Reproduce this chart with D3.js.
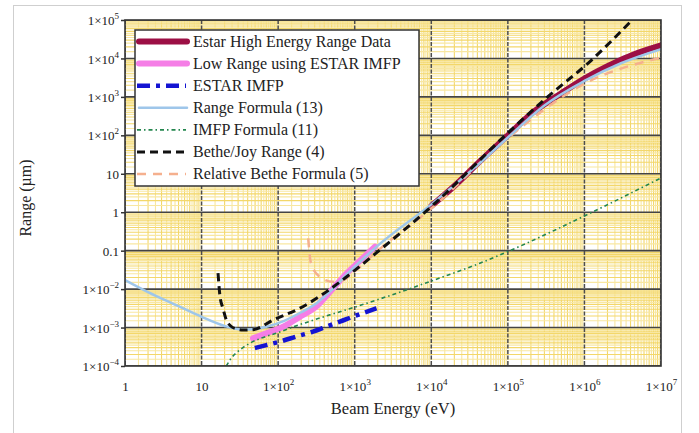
<!DOCTYPE html>
<html lang="en">
<head>
<meta charset="utf-8">
<title>Range vs Beam Energy</title>
<script src="https://d3js.org/d3.v7.min.js"></script>
<style>
  body { margin: 0; background: #fff; }
  svg text { font-family: "Liberation Serif", "Times New Roman", serif; fill: #222; }
</style>
</head>
<body>
<svg id="chart" width="699" height="433"></svg>
<script>
// legend names, in legend order
var seriesNames = [
    "Estar High Energy Range Data",
    "Low Range using ESTAR IMFP",
    "ESTAR IMFP",
    "Range Formula (13)",
    "IMFP Formula (11)",
    "Bethe/Joy Range (4)",
    "Relative Bethe Formula (5)"
];

// beam energy (eV) / range (um)
var estarHighE = [1e4, 2e4, 4.3e4, 1e5, 2e5, 5e5, 1e6, 2e6, 5e6, 1e7];
var estarHighR = [1.45, 4.8, 21, 100, 360, 1250, 3000, 6300, 14000, 22000];

var lowRangeE = [47, 70, 116, 200, 318, 500, 786, 1200, 1837];
var lowRangeR = [5.25e-4, 7.1e-4, 1.05e-3, 2.0e-3, 3.6e-3, 9.5e-3, 0.0257, 0.057, 0.127];

var estarImfpE = [49.6, 70, 105, 180, 285, 450, 640, 1000, 1930];
var estarImfpR = [2.94e-4, 3.5e-4, 4.3e-4, 6e-4, 7.8e-4, 1.1e-3, 1.42e-3, 2e-3, 3.16e-3];

var rangeFormE = [1, 2, 5, 10, 20, 35, 50, 70, 120, 200, 318, 500, 786, 2000, 1e4, 4.3e4, 1e5, 3e5, 1e6, 3e6, 1e7];
var rangeFormR = [0.0173, 8.4e-3, 3.6e-3, 1.9e-3, 1.1e-3, 8.8e-4, 9.2e-4, 1.05e-3, 1.5e-3, 2.5e-3, 4.3e-3, 9.5e-3, 0.024, 0.135, 1.6, 19, 88, 600, 2600, 7500, 17500];

var imfpFormE = [21, 25, 30, 42.6, 60, 100, 143, 300, 1000, 1930, 1.3e4, 4.3e4, 1e5, 1e6, 1e7];
var imfpFormR = [1e-4, 1.7e-4, 2.4e-4, 3.9e-4, 5.3e-4, 7.4e-4, 9.7e-4, 1.6e-3, 3.4e-3, 5.2e-3, 0.0195, 0.047, 0.095, 0.8, 7.8];

var betheJoyE = [16.4, 17.4, 19, 21, 24, 28.7, 35, 47, 86, 193, 430, 786, 2130, 1e4, 1e5, 3.3e5, 1.18e6, 4.2e6];
var betheJoyR = [0.026, 6.5e-3, 3.2e-3, 1.6e-3, 1.1e-3, 9.2e-4, 8.6e-4, 8.8e-4, 1.57e-3, 3.2e-3, 8.6e-3, 0.021, 0.104, 1.4, 115, 1000, 8300, 1e5];

var relBetheE = [247, 255, 262, 285, 350, 520, 700, 1000, 2000, 1e4, 1e5, 1e6, 1e7];
var relBetheR = [0.21, 0.1, 0.06, 0.035, 0.021, 0.0156, 0.017, 0.029, 0.1, 1.25, 85, 2200, 10500];

// axis ticks and labels ("^" marks the exponent)
var xTicks = [1, 10, 1e2, 1e3, 1e4, 1e5, 1e6, 1e7];
var xTickLabels = ["1", "10", "1×10^2", "1×10^3", "1×10^4", "1×10^5", "1×10^6", "1×10^7"];
var yTicks = [1e-4, 1e-3, 1e-2, 0.1, 1, 10, 1e2, 1e3, 1e4, 1e5];
var yTickLabels = ["1×10^−4", "1×10^−3", "1×10^−2", "0.1", "1", "10", "1×10^2", "1×10^3", "1×10^4", "1×10^5"];

// styles for each series, same order as names
var styles = [
    {color: "#9c0f45", width: 6, dash: null},
    {color: "#f57ee6", width: 6, dash: null},
    {color: "#1414d2", width: 4.5, dash: "13,6,4,6"},
    {color: "#9ec6ea", width: 2.5, dash: null},
    {color: "#23864e", width: 1.6, dash: "4,3,1.5,3"},
    {color: "#111111", width: 3, dash: "8,5"},
    {color: "#f5b08e", width: 2.5, dash: "9,7"}
];

var seriesData = [
    [estarHighE, estarHighR],
    [lowRangeE, lowRangeR],
    [estarImfpE, estarImfpR],
    [rangeFormE, rangeFormR],
    [imfpFormE, imfpFormR],
    [betheJoyE, betheJoyR],
    [relBetheE, relBetheR]
];
// drawing order (bottom to top)
var drawOrder = [1, 0, 2, 4, 6, 3, 5];

var plotLeft = 125, plotRight = 661, plotTop = 20, plotBottom = 366;

var svg = d3.select("#chart");

// outer light frame
svg.append("rect")
    .attr("x", 13.5).attr("y", 5.5)
    .attr("width", 668).attr("height", 440)
    .attr("fill", "none").attr("stroke", "#cfcfcf").attr("stroke-width", 1);

var xScale = d3.scaleLog().domain([1, 1e7]).range([plotLeft, plotRight]);
var yScale = d3.scaleLog().domain([1e-4, 1e5]).range([plotBottom, plotTop]);

svg.append("clipPath").attr("id", "plotClip")
    .append("rect")
    .attr("x", plotLeft).attr("y", plotTop)
    .attr("width", plotRight - plotLeft).attr("height", plotBottom - plotTop);

// plot background
svg.append("rect")
    .attr("x", plotLeft).attr("y", plotTop)
    .attr("width", plotRight - plotLeft).attr("height", plotBottom - plotTop)
    .attr("fill", "#ffffff");

// minor grid: every half step inside each decade
var grid = svg.append("g").attr("clip-path", "url(#plotClip)");
function minorValues(lo, hi) {
    var vals = [];
    for (var d = lo; d < hi; d++) {
        for (var m = 1.5; m < 10; m += 0.5) {
            vals.push({v: m * Math.pow(10, d), whole: m % 1 === 0});
        }
    }
    return vals;
}
var xMinor = minorValues(0, 7);
var yMinor = minorValues(-4, 5);

grid.selectAll(".xminor").data(xMinor).enter().append("line")
    .attr("x1", function(d){ return xScale(d.v); })
    .attr("x2", function(d){ return xScale(d.v); })
    .attr("y1", plotTop).attr("y2", plotBottom)
    .attr("stroke", function(d){ return d.whole ? "#f3d76a" : "#f8e7a2"; })
    .attr("stroke-width", 1.1);

grid.selectAll(".yminor").data(yMinor).enter().append("line")
    .attr("y1", function(d){ return yScale(d.v); })
    .attr("y2", function(d){ return yScale(d.v); })
    .attr("x1", plotLeft).attr("x2", plotRight)
    .attr("stroke", function(d){ return d.whole ? "#f3d76a" : "#f8e7a2"; })
    .attr("stroke-width", 1.1);

// major grid
grid.selectAll(".xmajor").data(xTicks).enter().append("line")
    .attr("x1", function(d){ return xScale(d); })
    .attr("x2", function(d){ return xScale(d); })
    .attr("y1", plotTop).attr("y2", plotBottom)
    .attr("stroke", "#4d4d4d").attr("stroke-width", 1.5)
    .attr("stroke-dasharray", "4,1.5");

grid.selectAll(".ymajor").data(yTicks).enter().append("line")
    .attr("y1", function(d){ return yScale(d); })
    .attr("y2", function(d){ return yScale(d); })
    .attr("x1", plotLeft).attr("x2", plotRight)
    .attr("stroke", "#444").attr("stroke-width", 1.6);

// curves
var line = d3.line()
    .x(function(d){ return xScale(d[0]); })
    .y(function(d){ return yScale(d[1]); })
    .curve(d3.curveMonotoneX);

var curves = svg.append("g").attr("clip-path", "url(#plotClip)");
drawOrder.forEach(function(k) {
    var pts = seriesData[k][0].map(function(e, i){ return [e, seriesData[k][1][i]]; });
    curves.append("path")
        .datum(pts)
        .attr("d", line)
        .attr("fill", "none")
        .attr("stroke", styles[k].color)
        .attr("stroke-width", styles[k].width)
        .attr("stroke-linecap", styles[k].dash ? "butt" : "round")
        .attr("stroke-linejoin", "round")
        .attr("stroke-dasharray", styles[k].dash);
});

// plot frame
svg.append("rect")
    .attr("x", plotLeft).attr("y", plotTop)
    .attr("width", plotRight - plotLeft).attr("height", plotBottom - plotTop)
    .attr("fill", "none").attr("stroke", "#333").attr("stroke-width", 1.6);

// write "1×10^k" as text with a raised exponent
function writeLabel(sel, label) {
    sel.text(null);
    var parts = label.split("^");
    sel.append("tspan").text(parts[0]);
    if (parts.length > 1) {
        sel.append("tspan").attr("dy", -6).attr("font-size", 9).text(parts[1]);
    }
}

// y axis
var yAxis = svg.append("g")
    .attr("transform", "translate(" + plotLeft + ",0)")
    .call(d3.axisLeft(yScale).tickValues(yTicks).tickSize(4).tickPadding(2).tickFormat(function(){ return ""; }));
yAxis.select(".domain").remove();
yAxis.selectAll(".tick line").attr("stroke", "#333").attr("stroke-width", 1.5);
yAxis.selectAll(".tick text")
    .attr("font-size", 13)
    .attr("dy", "0.35em")
    .each(function(d, i){ writeLabel(d3.select(this), yTickLabels[i]); });

// x axis
var xAxis = svg.append("g")
    .attr("transform", "translate(0," + plotBottom + ")")
    .call(d3.axisBottom(xScale).tickValues(xTicks).tickSize(0).tickPadding(24).tickFormat(function(){ return ""; }));
xAxis.select(".domain").remove();
xAxis.selectAll(".tick text")
    .attr("font-size", 13)
    .attr("dy", "0.1em")
    .each(function(d, i){ writeLabel(d3.select(this), xTickLabels[i]); });

// axis titles
svg.append("text")
    .attr("x", 393).attr("y", 414)
    .attr("text-anchor", "middle")
    .attr("font-size", 16.5)
    .text("Beam Energy (eV)");

svg.append("text")
    .attr("transform", "translate(31,198) rotate(-90)")
    .attr("text-anchor", "middle")
    .attr("font-size", 16)
    .text("Range (µm)");

// legend
var legend = svg.append("g");
legend.append("rect")
    .attr("x", 135).attr("y", 30)
    .attr("width", 284).attr("height", 156)
    .attr("fill", "#fff").attr("stroke", "#333").attr("stroke-width", 1.5);

seriesNames.forEach(function(name, i) {
    var ly = 41.5 + i * 22.1;
    var st = styles[i];
    legend.append("line")
        .attr("x1", st.dash ? 137 : 139).attr("x2", st.dash ? 186 : 187)
        .attr("y1", ly).attr("y2", ly)
        .attr("stroke", st.color)
        .attr("stroke-width", st.width)
        .attr("stroke-linecap", st.dash ? "butt" : "round")
        .attr("stroke-dasharray", st.dash);
    legend.append("text")
        .attr("x", 193).attr("y", ly + 5)
        .attr("font-size", 16)
        .text(name);
});
</script>
</body>
</html>
